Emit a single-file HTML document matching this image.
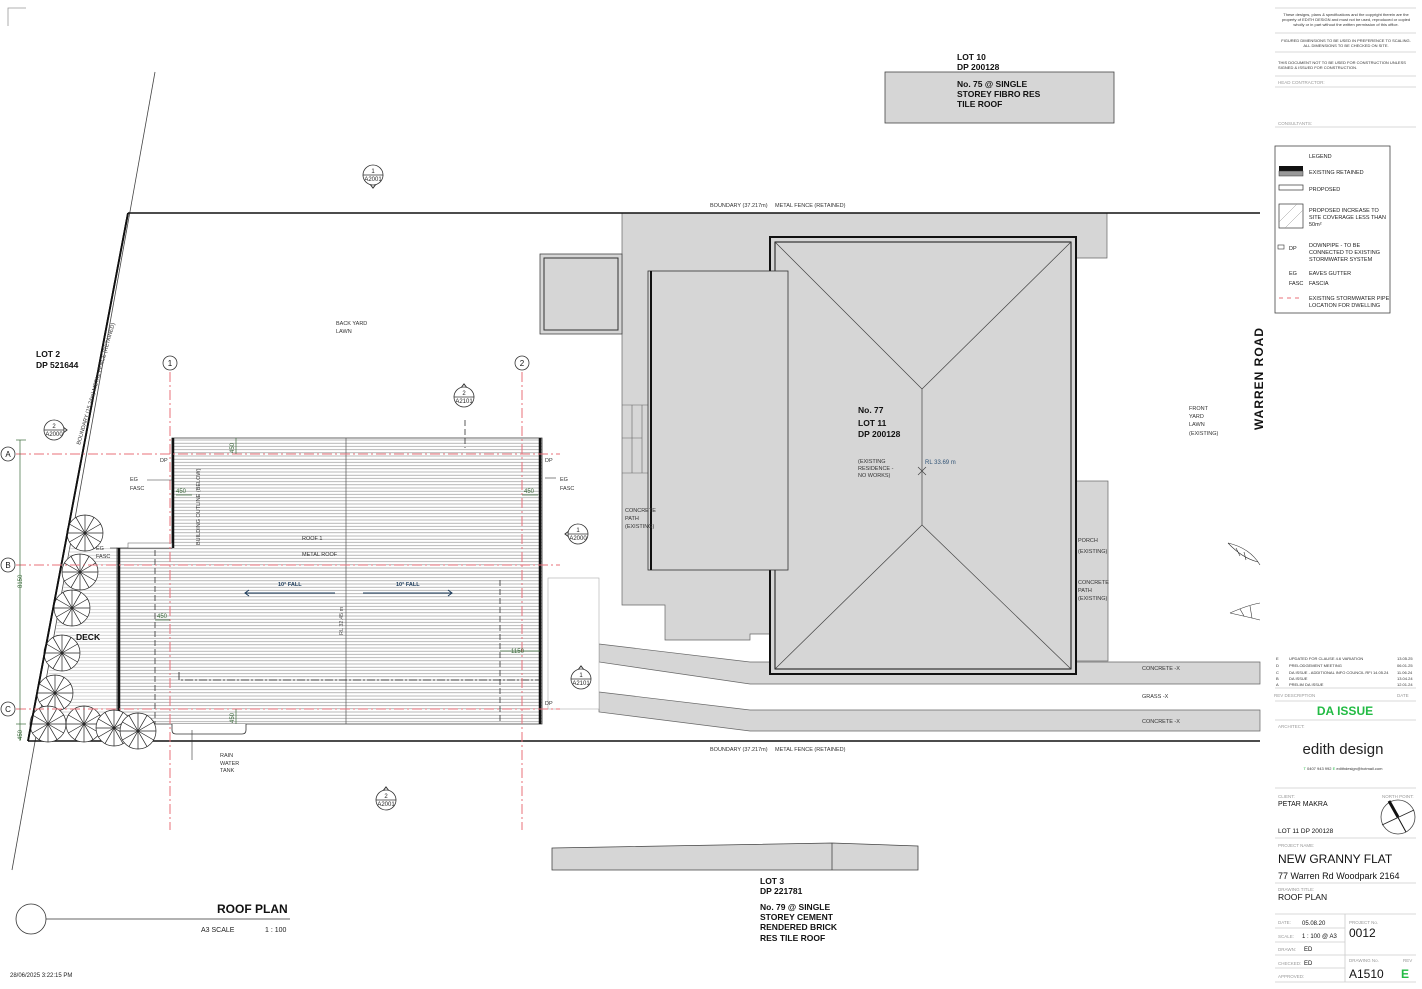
<!DOCTYPE html>
<html><head><meta charset="utf-8"><style>
html,body{margin:0;padding:0;background:#fff}
svg{display:block}
text{font-family:"Liberation Sans",sans-serif}
</style></head><body>
<svg width="1422" height="989" viewBox="0 0 1422 989" xmlns="http://www.w3.org/2000/svg">
<defs>
<pattern id="hat" width="10" height="3.2" patternUnits="userSpaceOnUse"><rect width="10" height="3.2" fill="#fff"/><line x1="0" y1="1.6" x2="10" y2="1.6" stroke="#999" stroke-width="0.7"/></pattern>
<pattern id="hat2" width="10" height="3.2" patternUnits="userSpaceOnUse"><rect width="10" height="3.2" fill="#fff"/><line x1="0" y1="1.6" x2="10" y2="1.6" stroke="#bbb" stroke-width="0.6"/></pattern>
<g id="tree" fill="none" stroke="#222" stroke-width="0.7">
<circle r="18" fill="#fff"/>
<line x1="-18" y1="0" x2="18" y2="0"/><line x1="0" y1="-18" x2="0" y2="18"/>
<line x1="-15.6" y1="-9" x2="15.6" y2="9"/><line x1="-15.6" y1="9" x2="15.6" y2="-9"/>
<line x1="-9" y1="-15.6" x2="9" y2="15.6"/><line x1="-9" y1="15.6" x2="9" y2="-15.6"/>
</g>
<g id="sec" fill="#fff" stroke="#333" stroke-width="0.8">
<circle r="10"/><line x1="-10" y1="0" x2="10" y2="0"/>
</g>
</defs>

<!-- frame corner -->
<path d="M8 26 V8 H26" fill="none" stroke="#999" stroke-width="0.8"/>

<!-- lot 10 -->
<rect x="885" y="72" width="229" height="51" fill="#d6d6d6" stroke="#444" stroke-width="0.8"/>
<g font-size="8.5" font-weight="bold" fill="#111">
<text x="957" y="60">LOT 10</text><text x="957" y="70">DP 200128</text>
<text x="957" y="87">No. 75 @ SINGLE</text><text x="957" y="97">STOREY FIBRO RES</text><text x="957" y="107">TILE ROOF</text>
</g>

<!-- long thin left line -->
<line x1="155" y1="72" x2="12" y2="870" stroke="#444" stroke-width="0.8"/>

<!-- existing site gray -->
<path d="M622 213 H1107 V258 H1076 V674 H770 V634 H750 V640 H665 V605 H622 Z" fill="#d6d6d6" stroke="#666" stroke-width="0.7"/>
<rect x="1076" y="481" width="32" height="180" fill="#d6d6d6" stroke="#666" stroke-width="0.7"/>
<rect x="540" y="254" width="82" height="80" fill="#d6d6d6" stroke="#444" stroke-width="0.8"/>
<rect x="544" y="258" width="74" height="72" fill="none" stroke="#333" stroke-width="1"/>
<!-- steps -->
<g stroke="#666" stroke-width="0.6" fill="none"><line x1="622" y1="405" x2="648" y2="405"/><line x1="622" y1="473" x2="648" y2="473"/><line x1="632" y1="405" x2="632" y2="473"/><line x1="642" y1="405" x2="642" y2="473"/><line x1="622" y1="438" x2="642" y2="438"/></g>

<!-- driveway bands -->
<path d="M599 644 L750 662 H1260 V684 H750 L599 662 Z" fill="#d6d6d6" stroke="#666" stroke-width="0.7"/>
<path d="M599 692 L750 710 H1260 V731 H750 L599 712 Z" fill="#d6d6d6" stroke="#666" stroke-width="0.7"/>
<rect x="548" y="578" width="51" height="131" fill="#fff" stroke="#aaa" stroke-width="0.6"/>

<!-- house -->
<rect x="770" y="237" width="306" height="437" fill="#d6d6d6" stroke="#111" stroke-width="2"/>
<rect x="775" y="242" width="296" height="427" fill="none" stroke="#111" stroke-width="1"/>
<g stroke="#444" stroke-width="0.7" fill="none">
<line x1="775" y1="242" x2="922" y2="389"/><line x1="1071" y1="242" x2="922" y2="389"/>
<line x1="922" y1="389" x2="922" y2="525"/>
<line x1="775" y1="669" x2="922" y2="525"/><line x1="1071" y1="669" x2="922" y2="525"/>
<line x1="918" y1="467" x2="926" y2="475"/><line x1="926" y1="467" x2="918" y2="475"/>
</g>
<rect x="648" y="271" width="140" height="299" fill="#d6d6d6" stroke="#333" stroke-width="0.8"/>
<line x1="651" y1="271" x2="651" y2="570" stroke="#111" stroke-width="2"/>
<g font-size="8.5" font-weight="bold" fill="#111"><text x="858" y="413">No. 77</text><text x="858" y="426">LOT 11</text><text x="858" y="437">DP 200128</text></g>
<g font-size="5.5" fill="#333"><text x="858" y="463">(EXISTING</text><text x="858" y="470">RESIDENCE -</text><text x="858" y="477">NO WORKS)</text></g>
<text x="925" y="464" font-size="6" fill="#335577">RL 33.69 m</text>
<g font-size="5.5" fill="#333">
<text x="625" y="512">CONCRETE</text><text x="625" y="520">PATH</text><text x="625" y="528">(EXISTING)</text>
<text x="1078" y="542">PORCH</text><text x="1078" y="553">(EXISTING)</text>
<text x="1078" y="584">CONCRETE</text><text x="1078" y="592">PATH</text><text x="1078" y="600">(EXISTING)</text>
<text x="1142" y="670">CONCRETE -X</text><text x="1142" y="698">GRASS -X</text><text x="1142" y="723">CONCRETE -X</text>
<text x="1189" y="410">FRONT</text><text x="1189" y="418">YARD</text><text x="1189" y="426">LAWN</text><text x="1189" y="435">(EXISTING)</text>
<text x="336" y="325">BACK YARD</text><text x="336" y="333">LAWN</text>
<text x="710" y="207">BOUNDARY (37.217m)</text><text x="775" y="207">METAL FENCE (RETAINED)</text>
<text x="710" y="751">BOUNDARY (37.217m)</text><text x="775" y="751">METAL FENCE (RETAINED)</text>
</g>

<!-- boundaries -->
<line x1="128" y1="213" x2="1260" y2="213" stroke="#111" stroke-width="1.5"/>
<line x1="28" y1="741" x2="1260" y2="741" stroke="#111" stroke-width="1.5"/>

<!-- deck -->
<path d="M112 548 H117 V724 H40 L70 548 Z" fill="url(#hat2)"/>
<!-- granny flat roof -->
<path d="M172 438 H542 V724 H117 V548 H172 Z" fill="url(#hat)" stroke="#333" stroke-width="0.8"/>
<line x1="173" y1="438" x2="173" y2="548" stroke="#111" stroke-width="2.5"/>
<line x1="119" y1="548" x2="119" y2="724" stroke="#111" stroke-width="2.5"/>
<line x1="540" y1="438" x2="540" y2="724" stroke="#111" stroke-width="2.5"/>
<line x1="346" y1="438" x2="346" y2="724" stroke="#555" stroke-width="0.7"/>
<rect x="128" y="543" width="44" height="5" fill="#fff" stroke="#555" stroke-width="0.5"/>
<g stroke="#333" stroke-width="0.8" stroke-dasharray="6,3" fill="none">
<line x1="155" y1="550" x2="155" y2="724"/><line x1="500" y1="580" x2="500" y2="724"/>
<line x1="465" y1="420" x2="465" y2="448"/>
</g>
<path d="M179 672 V680 H540" fill="none" stroke="#222" stroke-width="0.8" stroke-dasharray="8,2,2,2"/>
<path d="M172 724 V730 Q172 734 176 734 H242 Q246 734 246 730 V724" fill="#fff" stroke="#333" stroke-width="0.8"/>
<line x1="192" y1="730" x2="192" y2="760" stroke="#333" stroke-width="0.6"/>

<!-- left boundary -->
<line x1="128" y1="213" x2="28" y2="741" stroke="#111" stroke-width="1.8"/>
<!-- trees -->
<use href="#tree" x="85" y="533"/><use href="#tree" x="80" y="572"/><use href="#tree" x="72" y="608"/>
<use href="#tree" x="62" y="653"/><use href="#tree" x="55" y="693"/><use href="#tree" x="48" y="724"/>
<use href="#tree" x="84" y="724"/><use href="#tree" x="114" y="728"/><use href="#tree" x="138" y="731"/>
<line x1="128" y1="213" x2="28" y2="741" stroke="#111" stroke-width="1.8"/>

<!-- grid -->
<g stroke="#e8707a" stroke-width="1" stroke-dasharray="10,3,2,3" fill="none">
<line x1="170" y1="372" x2="170" y2="830"/><line x1="522" y1="372" x2="522" y2="830"/>
<line x1="16" y1="454" x2="560" y2="454"/><line x1="16" y1="565" x2="560" y2="565"/><line x1="16" y1="709" x2="560" y2="709"/>
</g>
<g fill="#fff" stroke="#333" stroke-width="0.8">
<circle cx="170" cy="363" r="7"/><circle cx="522" cy="363" r="7"/><circle cx="8" cy="454" r="7"/><circle cx="8" cy="565" r="7"/><circle cx="8" cy="709" r="7"/>
</g>
<g font-size="8" fill="#111" text-anchor="middle">
<text x="170" y="366">1</text><text x="522" y="366">2</text><text x="8" y="457">A</text><text x="8" y="568">B</text><text x="8" y="712">C</text>
</g>

<!-- dimensions -->
<g stroke="#3a6a3a" stroke-width="0.7" fill="none">
<line x1="20" y1="440" x2="20" y2="741"/><line x1="16" y1="440" x2="26" y2="440"/><line x1="16" y1="724" x2="26" y2="724"/>
<line x1="236" y1="438" x2="236" y2="454"/><line x1="236" y1="709" x2="236" y2="724"/>
<line x1="176" y1="495" x2="192" y2="495"/><line x1="155" y1="620" x2="170" y2="620"/><line x1="522" y1="495" x2="538" y2="495"/><line x1="500" y1="651" x2="540" y2="651"/>
</g>
<g font-size="6" fill="#3a6a3a">
<text x="176" y="493">450</text><text x="157" y="618">450</text><text x="524" y="493">450</text><text x="511" y="653">1150</text>
<text transform="translate(22,588) rotate(-90)">8150</text>
<text transform="translate(234,453) rotate(-90)">450</text><text transform="translate(234,723) rotate(-90)">450</text>
<text transform="translate(22,740) rotate(-90)">450</text>
</g>

<!-- annotations -->
<g font-size="5.5" fill="#333">
<text x="160" y="462">DP</text><text x="545" y="462">DP</text><text x="545" y="705">DP</text>
<text x="130" y="481">EG</text><text x="130" y="490">FASC</text>
<text x="560" y="481">EG</text><text x="560" y="490">FASC</text>
<text x="96" y="550">EG</text><text x="96" y="558">FASC</text>
<text x="302" y="540">ROOF 1</text><text x="302" y="556">METAL ROOF</text>
<text x="220" y="757">RAIN</text><text x="220" y="765">WATER</text><text x="220" y="772">TANK</text>
<text transform="translate(200,545) rotate(-90)">BUILDING OUTLINE (BELOW)</text>
<text transform="translate(343,635) rotate(-90)" fill="#555">RL 32.45 m</text>
<text transform="translate(80,445) rotate(-74)">BOUNDARY (15.24m)   METAL FENCE (RETAINED)</text>
</g>
<g stroke="#333" stroke-width="0.6" fill="none">
<line x1="147" y1="480" x2="172" y2="480"/><line x1="545" y1="478" x2="556" y2="478"/><line x1="110" y1="548" x2="117" y2="548"/>
</g>
<g fill="#1a3a5a" font-size="5.5" font-weight="bold"><text x="278" y="586">10° FALL</text><text x="396" y="586">10° FALL</text></g>
<g stroke="#1a3a5a" stroke-width="1" fill="none">
<line x1="245" y1="593" x2="335" y2="593"/><path d="M249 590 L245 593 L249 596"/>
<line x1="363" y1="593" x2="452" y2="593"/><path d="M448 590 L452 593 L448 596"/>
</g>
<g font-size="8.5" font-weight="bold" fill="#111"><text x="36" y="357">LOT 2</text><text x="36" y="368">DP 521644</text><text x="76" y="640">DECK</text></g>

<!-- section markers -->
<g font-size="6" fill="#222" text-anchor="middle">
<g transform="translate(373,175)"><path d="M-10 0 L0 13 L10 0" fill="none" stroke="#333"/><use href="#sec"/><text y="-2">1</text><text y="6">A2001</text></g>
<g transform="translate(464,397)"><path d="M-10 0 L0 -13 L10 0" fill="none" stroke="#333"/><use href="#sec"/><text y="-2">2</text><text y="6">A2101</text></g>
<g transform="translate(54,430)"><path d="M0 -10 L13 0 L0 10" fill="none" stroke="#333"/><use href="#sec"/><text y="-2">2</text><text y="6">A2000</text></g>
<g transform="translate(578,534)"><path d="M0 -10 L-13 0 L0 10" fill="none" stroke="#333"/><use href="#sec"/><text y="-2">1</text><text y="6">A2000</text></g>
<g transform="translate(581,679)"><path d="M-10 0 L0 -13 L10 0" fill="none" stroke="#333"/><use href="#sec"/><text y="-2">1</text><text y="6">A2101</text></g>
<g transform="translate(386,800)"><path d="M-10 0 L0 -13 L10 0" fill="none" stroke="#333"/><use href="#sec"/><text y="-2">2</text><text y="6">A2001</text></g>
</g>

<!-- warren road -->
<text transform="translate(1263,430) rotate(-90)" font-size="12" font-weight="bold" fill="#111" letter-spacing="1">WARREN  ROAD</text>
<g stroke="#333" stroke-width="0.6" fill="none">
<path d="M1228 543 Q1250 548 1260 565 M1228 543 Q1242 558 1258 562 M1236 548 L1240 556 M1244 552 L1246 560"/>
<path d="M1230 613 Q1248 605 1260 603 M1230 613 Q1248 617 1260 620 M1240 609 L1244 616 M1250 606 L1252 618"/>
</g>

<!-- lot 3 -->
<path d="M552 848 L832 843 L918 846 V870 H552 Z" fill="#d6d6d6" stroke="#444" stroke-width="0.8"/>
<line x1="832" y1="843" x2="832" y2="870" stroke="#444" stroke-width="0.8"/>
<g font-size="8.5" font-weight="bold" fill="#111">
<text x="760" y="884">LOT 3</text><text x="760" y="894">DP 221781</text>
<text x="760" y="910">No. 79 @ SINGLE</text><text x="760" y="920">STOREY CEMENT</text><text x="760" y="930">RENDERED BRICK</text><text x="760" y="941">RES TILE ROOF</text>
</g>

<!-- title -->
<circle cx="31" cy="919" r="15" fill="none" stroke="#333" stroke-width="0.8"/>
<line x1="46" y1="919" x2="290" y2="919" stroke="#333" stroke-width="0.8"/>
<text x="217" y="913" font-size="12" font-weight="bold" fill="#111">ROOF PLAN</text>
<text x="201" y="932" font-size="7" fill="#222">A3 SCALE</text><text x="265" y="932" font-size="7" fill="#222">1 : 100</text>
<text x="10" y="977" font-size="6" fill="#222">28/06/2025 3:22:15 PM</text>

<!-- title block -->
<g stroke="#ccc" stroke-width="0.8">
<line x1="1275" y1="8" x2="1416" y2="8"/><line x1="1275" y1="33" x2="1416" y2="33"/><line x1="1275" y1="52" x2="1416" y2="52"/>
<line x1="1275" y1="76" x2="1416" y2="76"/><line x1="1275" y1="87" x2="1416" y2="87"/><line x1="1275" y1="127" x2="1416" y2="127"/>
<line x1="1275" y1="688" x2="1416" y2="688"/><line x1="1275" y1="701" x2="1416" y2="701"/><line x1="1275" y1="720" x2="1416" y2="720"/>
<line x1="1275" y1="788" x2="1416" y2="788"/><line x1="1275" y1="838" x2="1416" y2="838"/><line x1="1275" y1="883" x2="1416" y2="883"/>
<line x1="1275" y1="914" x2="1416" y2="914"/><line x1="1275" y1="928" x2="1345" y2="928"/><line x1="1275" y1="942" x2="1345" y2="942"/>
<line x1="1275" y1="955" x2="1416" y2="955"/><line x1="1275" y1="968" x2="1345" y2="968"/><line x1="1275" y1="982" x2="1416" y2="982"/>
<line x1="1345" y1="914" x2="1345" y2="982"/>
</g>
<g font-size="4" fill="#333" text-anchor="middle">
<text x="1346" y="16">These designs, plans &amp; specifications and the copyright therein are the</text>
<text x="1346" y="21">property of EDITH DESIGN and must not be used, reproduced or copied</text>
<text x="1346" y="26">wholly or in part without the written permission of this office.</text>
<text x="1346" y="42">FIGURED DIMENSIONS TO BE USED IN PREFERENCE TO SCALING.</text>
<text x="1346" y="47">ALL DIMENSIONS TO BE CHECKED ON SITE.</text>
</g>
<g font-size="4" fill="#333"><text x="1278" y="64">THIS DOCUMENT NOT TO BE USED FOR CONSTRUCTION UNLESS</text><text x="1278" y="69">SIGNED &amp; ISSUED FOR CONSTRUCTION.</text></g>
<g font-size="4.5" fill="#999"><text x="1278" y="84">HEAD CONTRACTOR:</text><text x="1278" y="125">CONSULTANTS:</text></g>
<rect x="1275" y="146" width="115" height="167" fill="#fff" stroke="#444" stroke-width="0.8"/>
<g font-size="5.5" fill="#222">
<text x="1309" y="158">LEGEND</text><text x="1309" y="174">EXISTING RETAINED</text><text x="1309" y="191">PROPOSED</text>
<text x="1309" y="212">PROPOSED INCREASE TO</text><text x="1309" y="219">SITE COVERAGE LESS THAN</text><text x="1309" y="226">50m²</text>
<text x="1309" y="247">DOWNPIPE - TO BE</text><text x="1309" y="254">CONNECTED TO EXISTING</text><text x="1309" y="261">STORMWATER SYSTEM</text>
<text x="1289" y="275">EG</text><text x="1309" y="275">EAVES GUTTER</text><text x="1289" y="285">FASC</text><text x="1309" y="285">FASCIA</text>
<text x="1289" y="250">DP</text>
<text x="1309" y="300">EXISTING STORMWATER PIPE</text><text x="1309" y="307">LOCATION FOR DWELLING</text>
</g>
<rect x="1279" y="166" width="24" height="5" fill="#111"/><rect x="1279" y="171" width="24" height="5" fill="#999" stroke="#333" stroke-width="0.5"/>
<rect x="1279" y="185" width="24" height="5" fill="#fff" stroke="#333" stroke-width="0.7"/>
<rect x="1279" y="204" width="24" height="24" fill="#fff" stroke="#333" stroke-width="0.7"/>
<path d="M1279 222 L1297 204 M1285 228 L1303 210" stroke="#999" stroke-width="0.5"/>
<rect x="1278" y="245" width="6" height="4" fill="none" stroke="#333" stroke-width="0.6"/>
<line x1="1279" y1="298" x2="1303" y2="298" stroke="#e8707a" stroke-width="1" stroke-dasharray="4,4"/>
<g font-size="4" fill="#333">
<text x="1276" y="660">E</text><text x="1289" y="660">UPDATED FOR CLAUSE 4.6 VARIATION</text><text x="1397" y="660">13.05.25</text>
<text x="1276" y="667">D</text><text x="1289" y="667">PRELODGEMENT MEETING</text><text x="1397" y="667">06.01.25</text>
<text x="1276" y="674">C</text><text x="1289" y="674">DA ISSUE - ADDITIONAL INFO COUNCIL RFI 14.05.24</text><text x="1397" y="674">11.06.24</text>
<text x="1276" y="680">B</text><text x="1289" y="680">DA ISSUE</text><text x="1397" y="680">13.04.24</text>
<text x="1276" y="686">A</text><text x="1289" y="686">PRELIM DA ISSUE</text><text x="1397" y="686">12.01.24</text>
</g>
<g font-size="4.5" fill="#999"><text x="1274" y="697">REV   DESCRIPTION</text><text x="1397" y="697">DATE</text>
<text x="1278" y="728">ARCHITECT:</text><text x="1278" y="798">CLIENT:</text><text x="1382" y="798">NORTH POINT:</text>
<text x="1278" y="847">PROJECT NAME:</text><text x="1278" y="891">DRAWING TITLE:</text>
<text x="1278" y="924">DATE:</text><text x="1278" y="938">SCALE:</text><text x="1278" y="951">DRAWN:</text><text x="1278" y="965">CHECKED:</text><text x="1278" y="978">APPROVED:</text>
<text x="1349" y="924">PROJECT No.</text><text x="1349" y="962">DRAWING No.</text><text x="1403" y="962">REV</text></g>
<text x="1345" y="715" font-size="12" font-weight="bold" fill="#22bb44" text-anchor="middle">DA ISSUE</text>
<text x="1343" y="754" font-size="15" fill="#222" text-anchor="middle">edith design</text>
<text x="1343" y="770" font-size="4" fill="#333" text-anchor="middle"><tspan fill="#22bb44">T</tspan> 0407 943 992 <tspan fill="#22bb44">E</tspan> edithdesign@hotmail.com</text>
<g fill="#111">
<text x="1278" y="806" font-size="7">PETAR MAKRA</text><text x="1278" y="833" font-size="6.5">LOT 11  DP 200128</text>
<text x="1278" y="863" font-size="12">NEW GRANNY FLAT</text><text x="1278" y="879" font-size="9">77 Warren Rd Woodpark 2164</text>
<text x="1278" y="900" font-size="8.5">ROOF PLAN</text>
<text x="1302" y="925" font-size="6">05.08.20</text><text x="1302" y="938" font-size="6">1 : 100  @ A3</text>
<text x="1304" y="951" font-size="6">ED</text><text x="1304" y="965" font-size="6">ED</text>
<text x="1349" y="937" font-size="12">0012</text><text x="1349" y="978" font-size="12">A1510</text>
</g>
<text x="1401" y="978" font-size="12" font-weight="bold" fill="#22bb44">E</text>
<circle cx="1398" cy="817" r="17" fill="none" stroke="#444" stroke-width="0.8"/>
<line x1="1389" y1="801" x2="1406" y2="832" stroke="#111" stroke-width="1"/><line x1="1389" y1="801" x2="1398" y2="817" stroke="#111" stroke-width="3"/>
<line x1="1382" y1="825" x2="1414" y2="810" stroke="#222" stroke-width="0.8"/>
</svg>
</body></html>
